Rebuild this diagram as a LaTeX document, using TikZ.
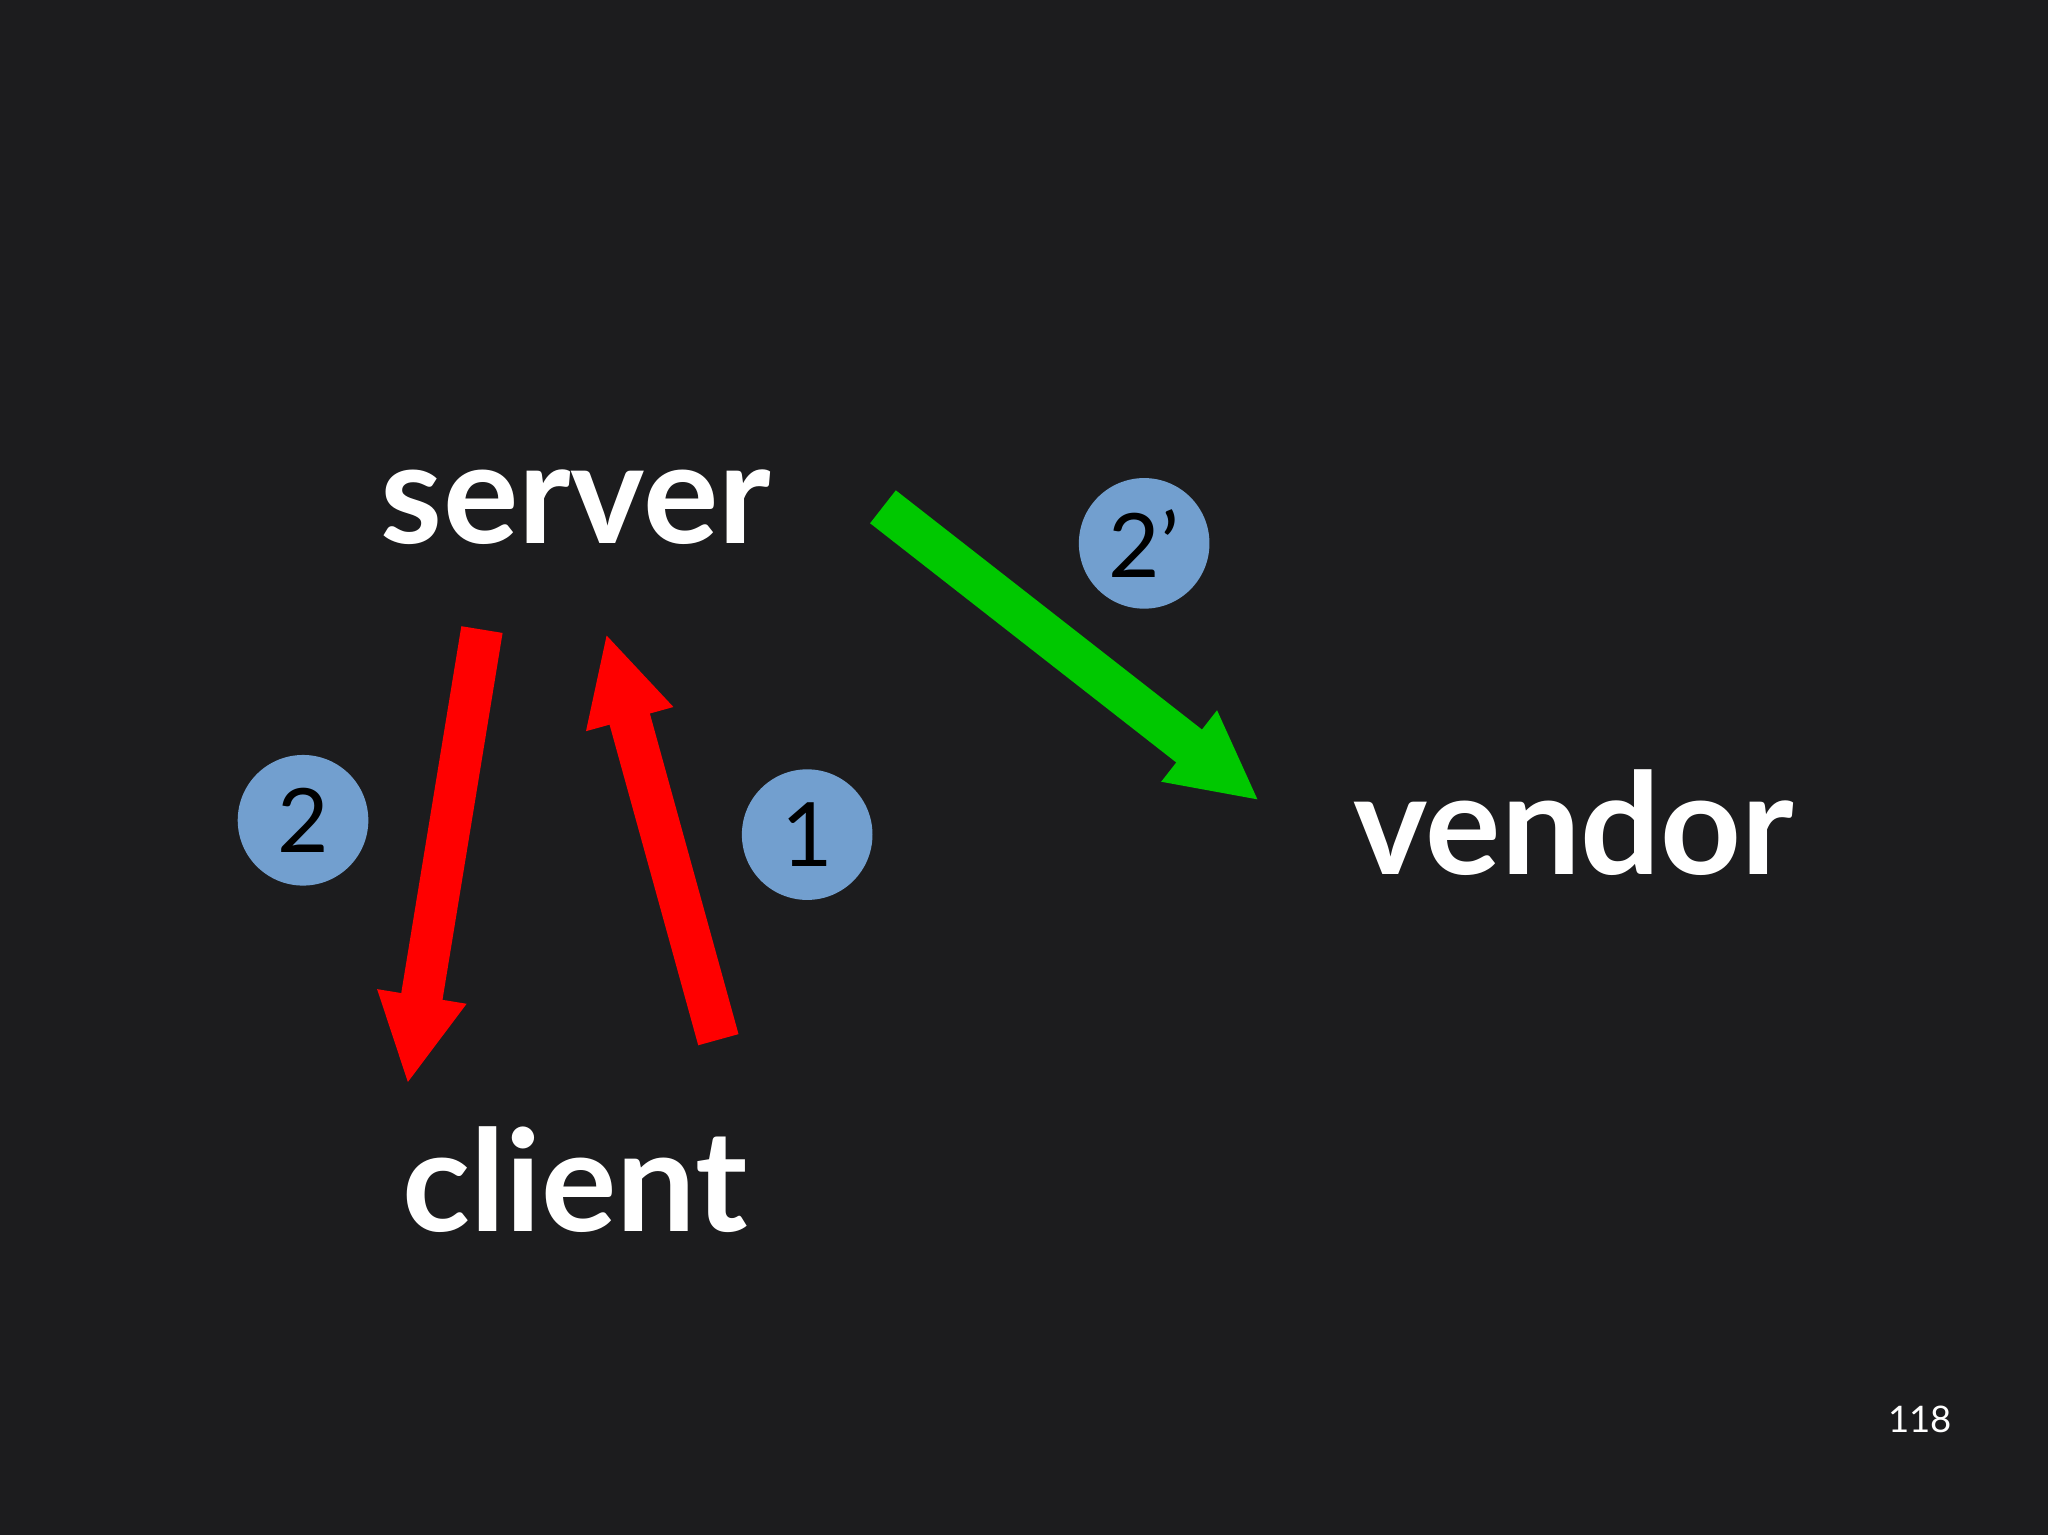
\documentclass[tikz,border=0pt]{standalone}
\usepackage{fontspec}
\setmainfont{Lato}
\usetikzlibrary{arrows.meta}
\definecolor{bg}{HTML}{1C1C1E}
\definecolor{bub}{HTML}{729FCF}
\definecolor{grn}{HTML}{00C800}
\tikzset{
  word/.style={text=white,font=\fontsize{54}{60}\selectfont\bfseries,inner sep=0},
  bubble/.style={circle,fill=bub,minimum size=50pt,inner sep=0,text=black,font=\fontsize{34}{40}\selectfont},
  fat/.style={line width=16pt,-{Triangle[length=34pt,width=32pt]}}
}
\begin{document}
\begin{tikzpicture}[x=0.5pt,y=-0.5pt]
\fill[bg] (0,0) rectangle (1568,1175);
\useasboundingbox (0,0) rectangle (1568,1175);
\node[word] (server) at (441,388) {server};
\node[word] (client) at (440,903) {client};
\node[word] (vendor) at (1205,630) {vendor};
\node[bubble] (b2) at (232,628) {2};
\node[bubble] (b1) at (618,639) {1};
\node[bubble] (b2p) at (876,416) {2'};
\node[text=white,font=\fontsize{14}{16}\selectfont] (page) at (1470,1087) {118};
\coordinate (a2s) at (369,482);
\coordinate (a2e) at (312,830);
\coordinate (a1s) at (550,796);
\coordinate (a1e) at (464,485);
\coordinate (gs) at (676,388);
\coordinate (ge) at (964,613);
\draw[fat,red] (a2s) -- (a2e);
\draw[fat,red] (a1s) -- (a1e);
\draw[fat,grn] (gs) -- (ge);
\end{tikzpicture}
\end{document}
